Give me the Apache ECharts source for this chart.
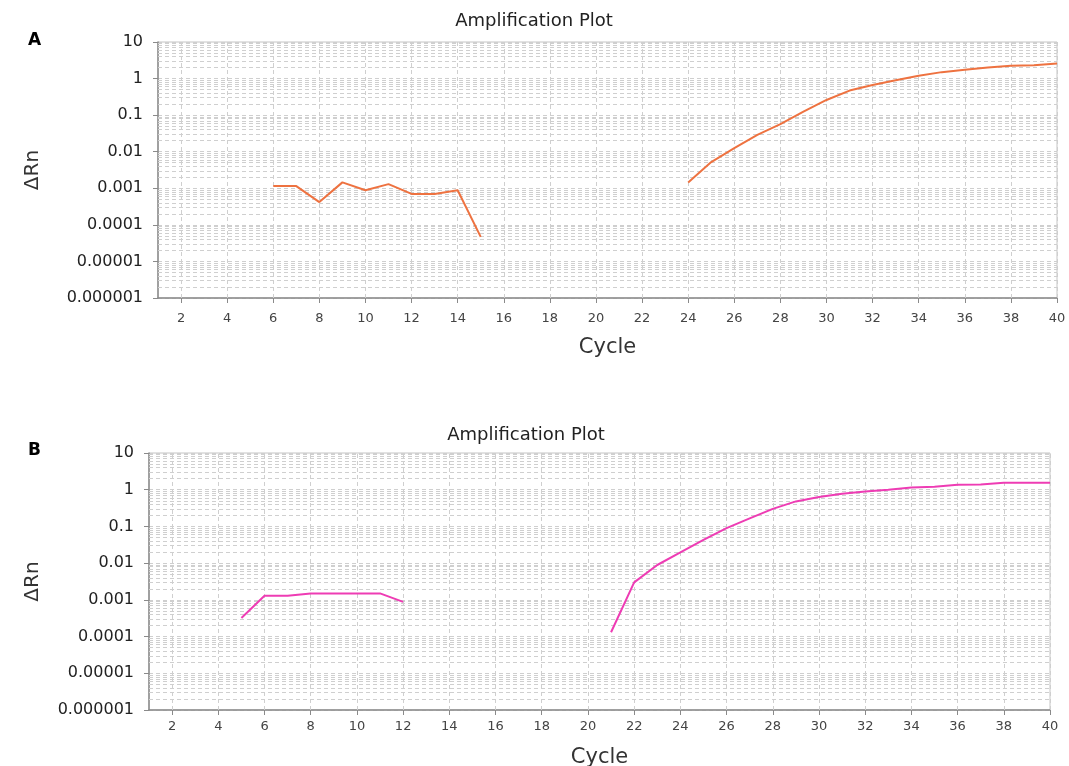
<!DOCTYPE html>
<html>
<head>
<meta charset="utf-8">
<style>html,body{margin:0;padding:0;background:#fff;}#c{width:1069px;height:766px;}</style>
<script src="https://cdn.jsdelivr.net/npm/echarts@6/dist/echarts.min.js"></script>
</head>
<body>
<div id="c"></div>
<script>
// ---- data ----
const cyclesA1 = [6, 7, 8, 9, 10, 11, 12, 13, 14, 15];
const valuesA1 = [0.00115, 0.00115, 0.00042, 0.00145, 0.00088, 0.0013, 0.0007, 0.0007, 0.00088, 0.000047];
const cyclesA2 = [24, 25, 26, 27, 28, 29, 30, 31, 32, 33, 34, 35, 36, 37, 38, 39, 40];
const valuesA2 = [0.00145, 0.0052, 0.0125, 0.029, 0.057, 0.124, 0.26, 0.47, 0.67, 0.9, 1.2, 1.5, 1.75, 2.0, 2.25, 2.3, 2.6];
const cyclesB1 = [5, 6, 7, 8, 9, 10, 11, 12];
const valuesB1 = [0.00032, 0.0013, 0.0013, 0.0015, 0.0015, 0.0015, 0.0015, 0.00088];
const cyclesB2 = [21, 22, 23, 24, 25, 26, 27, 28, 29, 30, 31, 32, 33, 34, 35, 36, 37, 38, 39, 40];
const valuesB2 = [0.000131, 0.003, 0.0089, 0.0195, 0.043, 0.09, 0.165, 0.3, 0.48, 0.63, 0.78, 0.9, 1.0, 1.15, 1.2, 1.36, 1.38, 1.55, 1.55, 1.55];
const xTickValues = [2, 4, 6, 8, 10, 12, 14, 16, 18, 20, 22, 24, 26, 28, 30, 32, 34, 36, 38, 40];
const yTickLabels = ['0.000001', '0.00001', '0.0001', '0.001', '0.01', '0.1', '1', '10'];
const minorMultipliers = [2, 3, 4, 5, 6, 7, 8, 9];
const decadeExponents = [-6, -5, -4, -3, -2, -1, 0];
const xRange = [1, 40];
const yRange = [1e-6, 10];
const titleText = 'Amplification Plot';
const xName = 'Cycle';
const yName = 'ΔRn';
const panelLabels = ['A', 'B'];

// ---- helpers ----
const pair = (xs, ys) => xs.map((x, i) => [x, ys[i]]);
const FONT = 'DejaVu Sans';
const gridLine = { color: '#cfcfcf', width: 1, type: [4, 3], opacity: 1 };
const gridSegments = [];
decadeExponents.forEach(e => minorMultipliers.forEach(m => {
  const v = m * Math.pow(10, e);
  gridSegments.push({ coords: [[xRange[0], v], [xRange[1], v]] });
}));
xTickValues.forEach(x => gridSegments.push({ coords: [[x, yRange[0]], [x, yRange[1]]] }));

function gridSeries(i) {
  return {
    type: 'lines', coordinateSystem: 'cartesian2d', xAxisIndex: i, yAxisIndex: i,
    polyline: false, silent: true, animation: false, z: 1,
    lineStyle: gridLine, effect: { show: false },
    data: gridSegments
  };
}
function xAxisCfg(gridIndex, gap, lblMargin) {
  return {
    type: 'value', gridIndex, min: xRange[0], max: xRange[1],
    name: xName, nameLocation: 'middle', nameGap: gap,
    nameTextStyle: { fontFamily: FONT, fontSize: 21, color: '#333' },
    axisLine: { show: true, lineStyle: { color: '#8a8a8a', width: 1.5 } },
    axisTick: { show: true, length: 5, customValues: xTickValues, lineStyle: { color: '#8a8a8a' } },
    axisLabel: { customValues: xTickValues, fontFamily: FONT, fontSize: 13, color: '#444', margin: lblMargin },
    splitLine: { show: false }
  };
}
function yAxisCfg(gridIndex, gap) {
  return {
    type: 'log', logBase: 10, gridIndex, min: yRange[0], max: yRange[1],
    name: yName, nameLocation: 'middle', nameGap: gap, nameRotate: 90,
    nameTextStyle: { fontFamily: FONT, fontSize: 20, color: '#333' },
    axisLine: { show: true, lineStyle: { color: '#8a8a8a', width: 1.5 } },
    axisTick: { show: true, length: 5, inside: false, lineStyle: { color: '#8a8a8a' } },
    axisLabel: {
      fontFamily: FONT, fontSize: 16, color: '#222', margin: 15,
      formatter: v => yTickLabels[Math.round(Math.log10(v)) + 6]
    },
    splitLine: { show: true, lineStyle: gridLine }
  };
}
function lineSeries(xi, data, color) {
  return {
    type: 'line', xAxisIndex: xi, yAxisIndex: xi, data,
    showSymbol: false, symbol: 'none', animation: false,
    lineStyle: { color, width: 2 }, itemStyle: { color }, z: 5
  };
}

const chart = echarts.init(document.getElementById('c'), null, { renderer: 'canvas' });
chart.setOption({
  backgroundColor: '#fff',
  animation: false,
  grid: [
    { left: 158, top: 42, width: 899, height: 256, outerBoundsMode: 'none', containLabel: false, show: true, borderColor: '#c4c4c4', borderWidth: 1, backgroundColor: 'transparent' },
    { left: 149, top: 453, width: 901, height: 257, outerBoundsMode: 'none', containLabel: false, show: true, borderColor: '#c4c4c4', borderWidth: 1, backgroundColor: 'transparent' }
  ],
  xAxis: [xAxisCfg(0, 39, 14), xAxisCfg(1, 37, 10)],
  yAxis: [yAxisCfg(0, 115), yAxisCfg(1, 106)],
  series: [
    gridSeries(0),
    gridSeries(1),
    lineSeries(0, pair(cyclesA1, valuesA1), '#ee7240'),
    lineSeries(0, pair(cyclesA2, valuesA2), '#ee7240'),
    lineSeries(1, pair(cyclesB1, valuesB1), '#ee3cb4'),
    lineSeries(1, pair(cyclesB2, valuesB2), '#ee3cb4')
  ],
  graphic: [
    { type: 'text', left: 28, top: 32, style: { text: panelLabels[0], font: 'bold 17px "DejaVu Sans"', fill: '#000' } },
    { type: 'text', left: 28, top: 442, style: { text: panelLabels[1], font: 'bold 17px "DejaVu Sans"', fill: '#000' } },
    { type: 'text', x: 534, y: 21, style: { text: titleText, font: '18px "DejaVu Sans"', fill: '#222', align: 'center', verticalAlign: 'middle' } },
    { type: 'text', x: 526, y: 435, style: { text: titleText, font: '18px "DejaVu Sans"', fill: '#222', align: 'center', verticalAlign: 'middle' } }
  ]
});
</script>
</body>
</html>
